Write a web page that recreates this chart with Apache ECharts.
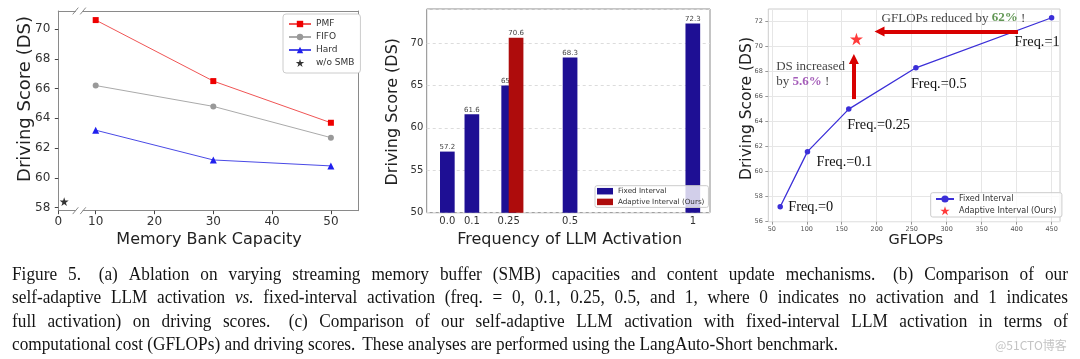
<!DOCTYPE html>
<html><head><meta charset="utf-8">
<script src="https://cdn.jsdelivr.net/npm/echarts@6/dist/echarts.min.js"></script>
<style>html,body{margin:0;padding:0;background:#fff}#c{width:1080px;height:359px}</style>
</head><body><div id="c"></div>
<script>
// ---------- data: (a) memory bank capacity ----------
const capX = [10, 30, 50];
const pmf = [70.6, 66.5, 63.7];
const fifo = [66.2, 64.8, 62.7];
const hard = [63.2, 61.2, 60.8];
const noSmbX = [1];
const noSmbY = [58.4];
const capTicks = [10, 20, 30, 40, 50];
const capTicksLeft = [0];
const dsTicksA = [58, 60, 62, 64, 66, 68, 70];

// ---------- data: (b) frequency of LLM activation ----------
const freqX = [0, 0.1, 0.25, 0.5, 1];
const freqLabels = ['0.0', '0.1', '0.25', '0.5', '1'];
const fixedDS = [57.2, 61.6, 65.0, 68.3, 72.3];
const adaptiveX = [0.28];
const adaptiveDS = [70.6];
const dsTicksB = [50, 55, 60, 65, 70];

// ---------- data: (c) GFLOPs ----------
const gflops = [62, 101, 160, 256, 450];
const fixedDS3 = [57.2, 61.6, 65.0, 68.3, 72.3];
const freqNames = ['Freq.=0', 'Freq.=0.1', 'Freq.=0.25', 'Freq.=0.5', 'Freq.=1'];
const adaptiveG = [171];
const adaptiveDS3 = [70.6];
const gTicks = [50, 100, 150, 200, 250, 300, 350, 400, 450];
const dsTicksC = [56, 58, 60, 62, 64, 66, 68, 70, 72];
const arrowH = [[402, 71.2], [204, 71.2]];
const arrowV = [[167.3, 65.8], [167.3, 69.0]];
const annotX = [207, 56.2];
const annotY = [72.27, 67.82];
const annotTexts = ['{n|GFLOPs reduced by }{g|62%}{n| !}', '{n|DS increased}\n{n|by }{p|5.6%}{n| !}'];

// ---------- caption ----------
const captionLines = [
  'Figure 5.  (a) Ablation on varying streaming memory buffer (SMB) capacities and content update mechanisms.  (b) Comparison of our',
  'self-adaptive LLM activation _vs._ fixed-interval activation (freq. = 0, 0.1, 0.25, 0.5, and 1, where 0 indicates no activation and 1 indicates',
  'full activation) on driving scores.  (c) Comparison of our self-adaptive LLM activation with fixed-interval LLM activation in terms of',
  'computational cost (GFLOPs) and driving scores.  These analyses are performed using the LangAuto-Short benchmark.'
];
const watermark = '@51CTO博客';

// ---------- styles ----------
const FONT = 'DejaVu Sans';
const SERIF = 'Liberation Serif';
const starPath = 'path://M100,0L122.45,69.1L195.1,69.1L136.33,111.8L158.8,180.9L100,138.2L41.2,180.9L63.67,111.8L4.9,69.1L77.55,69.1Z';
const freqLabelOffsets = [[8, 0.5], [9, 11], [-1.6, 16.4], [-5, 16], [-37, 24]];

const pairs = (xs, ys) => xs.map((x, i) => [x, ys[i]]);

const spineA = {show: true, onZero: false, lineStyle: {color: '#8a8a8a', width: 1}};
const noAxis = {show: false};

// caption layout (word-level justification)
const mctx = document.createElement('canvas').getContext('2d');
const CAP_SIZE = 18;
function mw(t, it) { mctx.font = (it ? 'italic ' : '') + CAP_SIZE + 'px "' + SERIF + '"'; return mctx.measureText(t).width; }
function parseLine(str) {
  const raw = str.split(' ');
  const words = [], weights = [];
  let pending = 0;
  raw.forEach(t => {
    if (t === '') { pending++; return; }
    if (words.length) weights.push(1 + pending * 0.6);
    pending = 0;
    const it = /^_.*_$/.test(t);
    words.push({t: it ? t.slice(1, -1) : t, it});
  });
  return {words, weights};
}
const capLeft = 12, capRight = 1068, capYs = [275, 298.5, 322, 345.5], lastWidth = 826;
const parsed = captionLines.map(parseLine);
const spNat = mw(' ', false);
const last = parsed[parsed.length - 1];
const lastNat = last.words.reduce((a, w) => a + mw(w.t, w.it), 0) + last.weights.reduce((a, b) => a + b, 0) * spNat;
const sx = lastWidth / lastNat;
const captionGraphics = [];
parsed.forEach((ln, li) => {
  const ws = ln.words.map(w => mw(w.t, w.it) * sx);
  const sumW = ws.reduce((a, b) => a + b, 0);
  const sumWt = ln.weights.reduce((a, b) => a + b, 0);
  const justify = li < parsed.length - 1;
  const unit = justify ? (capRight - capLeft - sumW) / sumWt : spNat * sx;
  let x = capLeft;
  ln.words.forEach((w, i) => {
    captionGraphics.push({
      type: 'text', x: x, y: capYs[li], scaleX: sx, scaleY: 1, silent: true,
      style: {text: w.t, fontFamily: SERIF, fontSize: CAP_SIZE, fontStyle: w.it ? 'italic' : 'normal',
        fill: '#141414', textAlign: 'left', textVerticalAlign: 'middle'}
    });
    x += ws[i] + (i < ln.weights.length ? ln.weights[i] * unit : 0);
  });
});

function titleText(text, x, y, size, rot) {
  return {type: 'text', x, y, rotation: rot ? Math.PI / 2 : 0, silent: true,
    style: {text, fontFamily: FONT, fontSize: size, fill: '#222', textAlign: 'center', textVerticalAlign: 'middle'}};
}
function breakMark(x, y) {
  return {type: 'line', silent: true, shape: {x1: x - 2.8, y1: y + 3.4, x2: x + 2.8, y2: y - 3.4}, style: {stroke: '#8a8a8a', lineWidth: 1}};
}

const chart = echarts.init(document.getElementById('c'));
const option = {
  animation: false,
  backgroundColor: '#fff',
  textStyle: {fontFamily: FONT},
  grid: [
    {left: 58.3, top: 11, width: 17.2, height: 199.7},
    {left: 83, top: 11, width: 275.3, height: 199.7},
    {left: 426.7, top: 9, width: 283.3, height: 203.7, show: true, borderColor: '#8a8a8a', borderWidth: 1, backgroundColor: 'transparent'},
    {left: 768.3, top: 9, width: 291.7, height: 212.7, show: true, borderColor: '#cccccc', borderWidth: 1, backgroundColor: 'transparent'}
  ],
  xAxis: [
    {gridIndex: 0, type: 'value', position: 'bottom', min: 0, max: 2.93, axisLine: spineA,
      axisTick: {show: true, customValues: capTicksLeft, length: 3.5, lineStyle: {color: '#444'}},
      axisLabel: {customValues: capTicksLeft, fontSize: 12, color: '#333', margin: 5, fontFamily: FONT}, splitLine: noAxis},
    {gridIndex: 0, type: 'value', position: 'top', min: 0, max: 2.93, axisLine: spineA, axisTick: noAxis, axisLabel: noAxis, splitLine: noAxis},
    {gridIndex: 1, type: 'value', position: 'bottom', min: 7.84, max: 54.66, axisLine: spineA,
      axisTick: {show: true, customValues: capTicks, length: 3.5, lineStyle: {color: '#444'}},
      axisLabel: {customValues: capTicks, fontSize: 12, color: '#333', margin: 5, fontFamily: FONT}, splitLine: noAxis},
    {gridIndex: 1, type: 'value', position: 'top', min: 7.84, max: 54.66, axisLine: spineA, axisTick: noAxis, axisLabel: noAxis, splitLine: noAxis},
    {gridIndex: 2, type: 'value', min: -0.084, max: 1.07, axisLine: noAxis, axisTick: {show: false},
      axisLabel: {customValues: freqX, fontSize: 10, color: '#333', margin: 4, fontFamily: FONT,
        formatter: v => freqLabels[freqX.indexOf(v)]}, splitLine: noAxis},
    {gridIndex: 3, type: 'value', min: 45, max: 462, axisLine: noAxis,
      axisTick: {show: true, customValues: gTicks, length: 3, lineStyle: {color: '#999'}},
      axisLabel: {customValues: gTicks, fontSize: 6.5, color: '#555', margin: 4.5, fontFamily: FONT},
      splitLine: {show: true, lineStyle: {color: '#e6e6e6', width: 1}}}
  ],
  yAxis: [
    {gridIndex: 0, type: 'value', position: 'left', min: 57.79, max: 71.21, axisLine: spineA,
      axisTick: {show: true, customValues: dsTicksA, length: 3.5, lineStyle: {color: '#444'}},
      axisLabel: {customValues: dsTicksA, fontSize: 12, color: '#333', margin: 8, fontFamily: FONT}, splitLine: noAxis},
    {gridIndex: 1, type: 'value', position: 'right', min: 57.79, max: 71.21, axisLine: spineA, axisTick: noAxis, axisLabel: noAxis, splitLine: noAxis},
    {gridIndex: 2, type: 'value', min: 50, max: 74, interval: 5, axisLine: noAxis, axisTick: {show: false},
      axisLabel: {customValues: dsTicksB, fontSize: 10, color: '#333', margin: 3.4, fontFamily: FONT},
      splitLine: {show: true, lineStyle: {color: '#dcdcdc', type: [3, 3], width: 1}}},
    {gridIndex: 3, type: 'value', min: 56, max: 73, interval: 2, axisLine: noAxis,
      axisTick: {show: true, customValues: dsTicksC, length: 3, lineStyle: {color: '#999'}},
      axisLabel: {customValues: dsTicksC, fontSize: 6.5, color: '#555', margin: 5.5, fontFamily: FONT},
      splitLine: {show: true, lineStyle: {color: '#e6e6e6', width: 1}}}
  ],
  legend: [
    {data: ['PMF', 'FIFO', 'Hard', 'w/o SMB'], orient: 'vertical', left: 283, top: 14,
      itemWidth: 22, itemHeight: 8, itemGap: 3, padding: [5, 6, 5, 5],
      textStyle: {fontSize: 9, lineHeight: 10, color: '#333', fontFamily: FONT},
      borderColor: '#cccccc', borderWidth: 1, borderRadius: 3, backgroundColor: '#fff', selectedMode: false},
    {data: [{name: 'Fixed Interval', icon: 'rect'}, {name: 'Adaptive Interval (Ours)', icon: 'rect'}], orient: 'vertical', left: 595, top: 185.7,
      itemWidth: 16, itemHeight: 6.5, itemGap: 2.7, padding: [1.5, 4, 1.5, 2],
      textStyle: {fontSize: 7.2, lineHeight: 8, color: '#333', fontFamily: FONT},
      borderColor: '#cccccc', borderWidth: 1, borderRadius: 2, backgroundColor: 'rgba(255,255,255,0.8)', selectedMode: false},
    {data: ['Fixed Interval ', 'Adaptive Interval (Ours) '], orient: 'vertical', left: 930.7, top: 192.7,
      itemWidth: 18, itemHeight: 9, itemGap: 2.7, padding: [1.8, 3, 1.8, 4.3],
      textStyle: {fontSize: 8.1, lineHeight: 9, color: '#333', fontFamily: FONT},
      borderColor: '#cccccc', borderWidth: 1, borderRadius: 2, backgroundColor: 'rgba(255,255,255,0.8)', selectedMode: false}
  ],
  series: [
    {name: 'PMF', type: 'line', xAxisIndex: 2, yAxisIndex: 1, data: pairs(capX, pmf), symbol: 'rect', symbolSize: 6,
      itemStyle: {color: '#ee0000'}, lineStyle: {color: '#f05555', width: 1}},
    {name: 'FIFO', type: 'line', xAxisIndex: 2, yAxisIndex: 1, data: pairs(capX, fifo), symbol: 'circle', symbolSize: 6,
      itemStyle: {color: '#999999'}, lineStyle: {color: '#aaaaaa', width: 1}},
    {name: 'Hard', type: 'line', xAxisIndex: 2, yAxisIndex: 1, data: pairs(capX, hard), symbol: 'triangle', symbolSize: 7,
      itemStyle: {color: '#2020ee'}, lineStyle: {color: '#4a4ae6', width: 1}},
    {name: 'w/o SMB', type: 'scatter', xAxisIndex: 0, yAxisIndex: 0, data: pairs(noSmbX, noSmbY), symbol: starPath, symbolSize: 9,
      symbolKeepAspect: true, itemStyle: {color: '#000'}},
    {name: 'Fixed Interval', type: 'bar', xAxisIndex: 4, yAxisIndex: 2, data: pairs(freqX, fixedDS), barWidth: 14.7, barGap: '-100%', z: 2,
      itemStyle: {color: '#1e0f94'},
      label: {show: true, position: 'top', distance: 1, fontSize: 7, color: '#444', fontFamily: FONT, formatter: p => p.value[1].toFixed(1)}},
    {name: 'Adaptive Interval (Ours)', type: 'bar', xAxisIndex: 4, yAxisIndex: 2, data: pairs(adaptiveX, adaptiveDS), barWidth: 14.7, barGap: '-100%', z: 3,
      itemStyle: {color: '#ae0c0c'},
      label: {show: true, position: 'top', distance: 1, fontSize: 7, color: '#444', fontFamily: FONT, formatter: p => p.value[1].toFixed(1)}},
    {name: 'Fixed Interval ', type: 'line', xAxisIndex: 5, yAxisIndex: 3,
      data: gflops.map((g, i) => ({value: [g, fixedDS3[i]], label: {offset: freqLabelOffsets[i]}})),
      symbol: 'circle', symbolSize: 5.5, itemStyle: {color: '#3b2fd8'}, lineStyle: {color: '#3b2fd8', width: 1.3},
      label: {show: true, position: 'inside', align: 'left', verticalAlign: 'middle', fontFamily: SERIF, fontSize: 14.3, color: '#111',
        formatter: p => freqNames[p.dataIndex]}},
    {name: 'Adaptive Interval (Ours) ', type: 'scatter', xAxisIndex: 5, yAxisIndex: 3, data: pairs(adaptiveG, adaptiveDS3),
      symbol: starPath, symbolSize: 13, symbolKeepAspect: true, itemStyle: {color: '#ff0a0a'}, z: 4,
      markLine: {silent: true, symbol: ['none', 'triangle'], symbolSize: [10, 10], animation: false,
        lineStyle: {color: '#d80000', width: 4, type: 'solid'}, itemStyle: {color: '#d80000'}, label: {show: false},
        emphasis: {disabled: true},
        data: [[{coord: arrowH[0]}, {coord: arrowH[1]}], [{coord: arrowV[0]}, {coord: arrowV[1]}]]}},
    {name: 'annot', type: 'scatter', xAxisIndex: 5, yAxisIndex: 3, data: pairs(annotX, annotY), symbolSize: 0.01,
      itemStyle: {color: 'rgba(0,0,0,0)'}, silent: true, z: 5,
      label: {show: true, position: 'inside', align: 'left', verticalAlign: 'middle', formatter: p => annotTexts[p.dataIndex],
        rich: {
          n: {fontFamily: SERIF, fontSize: 13, color: '#111', lineHeight: 15},
          g: {fontFamily: SERIF, fontSize: 13, fontWeight: 'bold', color: '#3b7d2a', lineHeight: 15},
          p: {fontFamily: SERIF, fontSize: 13, fontWeight: 'bold', color: '#8e35a8', lineHeight: 15}
        }}}
  ],
  graphic: [
    titleText('Driving Score (DS)', 25, 99, 18, true),
    titleText('Memory Bank Capacity', 209, 240, 16, false),
    titleText('Driving Score (DS)', 393.3, 111.7, 16, true),
    titleText('Frequency of LLM Activation', 569.7, 240, 16, false),
    titleText('Driving Score (DS)', 746.7, 108.5, 15.5, true),
    titleText('GFLOPs', 915.8, 240, 14.5, false),
    breakMark(75.5, 11), breakMark(83, 11), breakMark(75.5, 210.7), breakMark(83, 210.7),
    {type: 'text', x: 995, y: 345.5, silent: true,
      style: {text: watermark, fontFamily: 'Noto Sans CJK SC', fontSize: 12, fill: '#c4c4c4', textAlign: 'left', textVerticalAlign: 'middle'}}
  ].concat(captionGraphics)
};
chart.setOption(option);
</script>
</body></html>
